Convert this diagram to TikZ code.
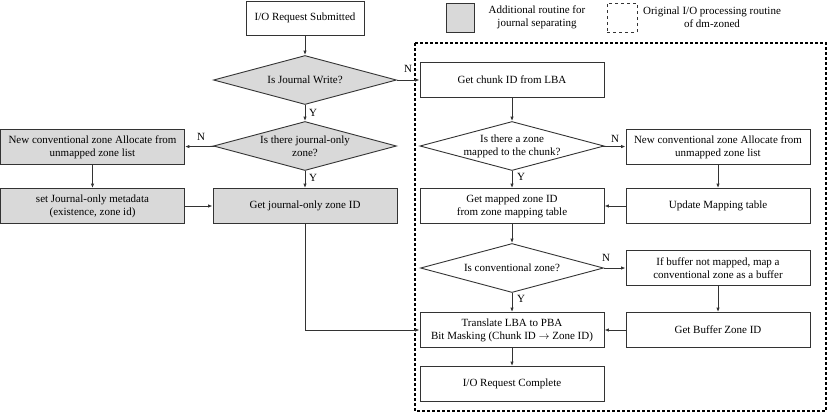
\documentclass[tikz,border=0pt]{standalone}
\usepackage{fontspec}
\setmainfont{Liberation Serif}
\usetikzlibrary{shapes.geometric,arrows.meta}
\tikzset{>={Latex[length=4.5pt,width=3.5pt]}}
\definecolor{boxgray}{HTML}{D9D9D9}
\definecolor{linegray}{HTML}{333333}

\begin{document}
\begin{tikzpicture}[x=1pt,y=-1pt,font=\fontsize{11}{13}\selectfont,
    proc/.style={rectangle,minimum width=184,minimum height=35},
    addproc/.style={proc,fill=boxgray},
    decision/.style={diamond,aspect=3.8,minimum width=183,minimum height=49,inner sep=0pt}]
\useasboundingbox (0,0) rectangle (827,413);
%original dm-zoned routine
\draw [line width=1.2pt,dash pattern=on 3pt off 2pt] (415,43) rectangle (826,411);

\begin{scope}[every node/.style={draw=linegray,line width=.9pt,align=center,inner sep=1pt}]
\node (Start) [minimum width=118,minimum height=34] at (305,18) {I/O Request Submitted};
\node (JW) [decision,fill=boxgray] at (305,80) {Is Journal Write?};
\node (JO) [decision,fill=boxgray] at (305,146) {Is there journal-only\\zone?};
\node (NewJ) [addproc] at (92.5,147) {New conventional zone Allocate from\\unmapped zone list};
\node (Meta) [addproc] at (92.5,206) {set Journal-only metadata\\(existence, zone id)};
\node (JID) [addproc] at (305,206) {Get journal-only zone ID};

\node (Chunk) [proc] at (512,80) {Get chunk ID from LBA};
\node (Mapped) [decision] at (512,146) {Is there a zone\\mapped to the chunk?};
\node (NewC) [proc] at (718,147) {New conventional zone Allocate from\\unmapped zone list};
\node (ZID) [proc] at (512,206) {Get mapped zone ID\\from zone mapping table};
\node (Upd) [proc] at (718,206) {Update Mapping table};
\node (Conv) [decision] at (512,268) {Is conventional zone?};
\node (Buf) [proc] at (718,268) {If buffer not mapped, map a\\conventional zone as a buffer};
\node (Trans) [proc] at (512,330) {Translate LBA to PBA\\Bit Masking (Chunk ID $\rightarrow$ Zone ID)};
\node (BufID) [proc] at (718,330) {Get Buffer Zone ID};
\node (Done) [proc] at (512,384) {I/O Request Complete};

%legend
\node (LegA) [fill=boxgray,minimum width=28,minimum height=29] at (460,17.5) {};
\node (LegB) [dashed,minimum width=30,minimum height=29] at (622,17.5) {};
\end{scope}

\begin{scope}[every node/.style={inner sep=0pt,align=center}]
\node (LegAT) at (537,17) {Additional routine for\\journal separating};
\node (LegBT) at (712,17) {Original I/O processing routine\\of dm-zoned};
\node (N1) at (408,69) {N};
\node (Y1) at (313,113) {Y};
\node (N2) at (201,137) {N};
\node (Y2) at (313,178) {Y};
\node (N3) at (615,139) {N};
\node (Y3) at (521,177) {Y};
\node (N4) at (606,258) {N};
\node (Y4) at (521,299) {Y};
\end{scope}

\begin{scope}[every edge/.style={draw=linegray,line width=.9pt}]
    \path [->] (Start) edge (JW);
    \path [->] (JW) edge (JO);
    \path [->] (JW) edge (Chunk);
    \path [->] (JO) edge (NewJ);
    \path [->] (JO) edge (JID);
    \path [->] (NewJ) edge (Meta);
    \path [->] (Meta) edge (JID);

    \path [->] (Chunk) edge (Mapped);
    \path [->] (Mapped) edge (NewC);
    \path [->] (Mapped) edge (ZID);
    \path [->] (NewC) edge (Upd);
    \path [->] (Upd) edge (ZID);
    \path [->] (ZID) edge (Conv);
    \path [->] (Conv) edge (Buf);
    \path [->] (Conv) edge (Trans);
    \path [->] (Buf) edge (BufID);
    \path [->] (BufID) edge (Trans);
    \path [->] (Trans) edge (Done);
\end{scope}
\draw [->,draw=linegray,line width=.9pt] (JID) |- (Trans);
\end{tikzpicture}
\end{document}
